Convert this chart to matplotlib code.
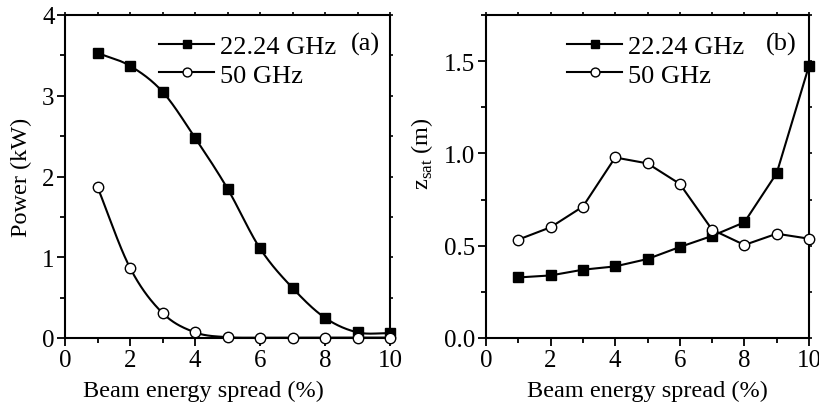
import numpy as np
import matplotlib
matplotlib.use("Agg")
import matplotlib.pyplot as plt
from matplotlib.ticker import MultipleLocator

plt.rcParams['font.family'] = ['Liberation Serif', 'DejaVu Serif']
plt.rcParams['mathtext.fontset'] = 'custom'
plt.rcParams['mathtext.rm'] = 'Liberation Serif'

spread = [1, 2, 3, 4, 5, 6, 7, 8, 9, 10]
power_22 = [3.53, 3.37, 3.05, 2.48, 1.85, 1.11, 0.62, 0.25, 0.07, 0.06]
power_50 = [1.87, 0.87, 0.31, 0.07, 0.01, 0.005, 0.005, 0.005, 0.005, 0.005]
zsat_22 = [0.328, 0.339, 0.37, 0.388, 0.428, 0.493, 0.553, 0.627, 0.893, 1.475]
zsat_50 = [0.533, 0.60, 0.712, 0.978, 0.946, 0.835, 0.587, 0.504, 0.565, 0.538]
labels = ["22.24 GHz", "50 GHz"]


def smooth(x, y, n=30):
    # Catmull-Rom rendering of the line through the data points
    x = np.asarray(x, float); y = np.asarray(y, float)
    xs, ys = [], []
    for i in range(len(x) - 1):
        p0 = (x[i - 1], y[i - 1]) if i > 0 else (2 * x[i] - x[i + 1], 2 * y[i] - y[i + 1])
        p1 = (x[i], y[i]); p2 = (x[i + 1], y[i + 1])
        p3 = (x[i + 2], y[i + 2]) if i + 2 < len(x) else (2 * x[i + 1] - x[i], 2 * y[i + 1] - y[i])
        t = np.linspace(0, 1, n, endpoint=False)
        for k, (a0, a1, a2, a3) in enumerate([(p0[0], p1[0], p2[0], p3[0]), (p0[1], p1[1], p2[1], p3[1])]):
            v = 0.5 * ((2 * a1) + (-a0 + a2) * t + (2 * a0 - 5 * a1 + 4 * a2 - a3) * t ** 2
                       + (-a0 + 3 * a1 - 3 * a2 + a3) * t ** 3)
            (xs if k == 0 else ys).extend(v)
    xs.append(x[-1]); ys.append(y[-1])
    return np.array(xs), np.maximum(np.array(ys), 0)


fig = plt.figure(figsize=(8.19, 4.10), dpi=100)
W, H = 819, 410
axA = fig.add_axes([65 / W, 1 - 339 / H, 325 / W, 323 / H])
axB = fig.add_axes([486 / W, 1 - 339 / H, 323 / W, 323 / H])

lw = 1.5
ms = 7.5
fs_tick = 18
fs_lab = 17.5
fs_leg = 19

# Panel (a)
xs, ys = smooth(spread, power_22)
axA.plot(xs, ys, color='black', lw=lw)
axA.plot(spread, power_22, 's', color='black', ms=ms, clip_on=False, zorder=3)
xs, ys = smooth(spread, power_50)
axA.plot(xs, ys, color='black', lw=lw)
axA.plot(spread, power_50, 'o', mfc='white', mec='black', mew=1.0, ms=ms, clip_on=False, zorder=3)
axA.plot([], [], '-s', color='black', lw=lw, ms=ms, label=labels[0])
axA.plot([], [], '-o', color='black', mfc='white', lw=lw, ms=ms, mew=1.0, label=labels[1])
axA.set_xlim(0, 10)
axA.set_ylim(0, 4)
axA.yaxis.set_major_locator(MultipleLocator(1))
axA.yaxis.set_minor_locator(MultipleLocator(0.5))
axA.set_ylabel("Power (kW)", fontsize=fs_lab)

# Panel (b)
axB.plot(spread, zsat_22, '-s', color='black', lw=lw, ms=ms, clip_on=False, zorder=3, label=labels[0])
axB.plot(spread, zsat_50, '-o', color='black', mfc='white', mew=1.0, lw=lw, ms=ms, clip_on=False, zorder=3, label=labels[1])
axB.set_xlim(0, 10)
axB.set_ylim(0, 1.75)
axB.yaxis.set_major_locator(MultipleLocator(0.5))
axB.yaxis.set_minor_locator(MultipleLocator(0.25))
axB.yaxis.set_major_formatter(matplotlib.ticker.FormatStrFormatter('%.1f'))
axB.set_ylabel(r"z$_{\mathrm{sat}}$ (m)", fontsize=fs_lab)

for ax, tag, lx, yb in [(axA, "(a)", 0.289, (1, 0.5)), (axB, "(b)", 0.251, (0.5, 0.25))]:
    ax.xaxis.set_major_locator(MultipleLocator(2))
    ax.xaxis.set_minor_locator(MultipleLocator(1))
    ax.tick_params(which='both', direction='out', width=1.3, labelsize=fs_tick)
    ax.tick_params(which='major', length=6)
    ax.tick_params(which='minor', length=3.5)
    ax.tick_params(axis='x', which='major', pad=2)
    ax.tick_params(axis='y', which='major', pad=1.5)
    for s in ax.spines.values():
        s.set_linewidth(1.5)
    # short ticks on top and right
    sx = ax.secondary_xaxis('top')
    sx.xaxis.set_major_locator(MultipleLocator(1))
    sx.tick_params(direction='out', length=2, width=1.2, labeltop=False)
    sx.spines['top'].set_visible(False)
    sy = ax.secondary_yaxis('right')
    sy.yaxis.set_major_locator(MultipleLocator(yb[1]))
    sy.tick_params(direction='out', length=2.5, width=1.2, labelright=False)
    sy.spines['right'].set_visible(False)
    ax.set_xlabel("Beam energy spread (%)", fontsize=fs_lab)
    ax.legend(loc='upper left', bbox_to_anchor=(lx, 0.94), frameon=False, fontsize=fs_leg,
              handlelength=2.1, handletextpad=0.2, labelspacing=0.2, borderaxespad=0, borderpad=0,
              markerscale=0.85)
    ax.text(0.97 if tag == "(a)" else 0.962, 0.913, tag, transform=ax.transAxes,
            ha='right', va='center', fontsize=fs_leg)

axA.xaxis.set_label_coords((203 - 65) / 325, -0.13)
axB.xaxis.set_label_coords(0.5, -0.13)
axA.yaxis.set_label_coords(-0.10, 0.5)
axB.yaxis.set_label_coords(-0.157, 0.575)

fig.savefig("out.png", dpi=100)
